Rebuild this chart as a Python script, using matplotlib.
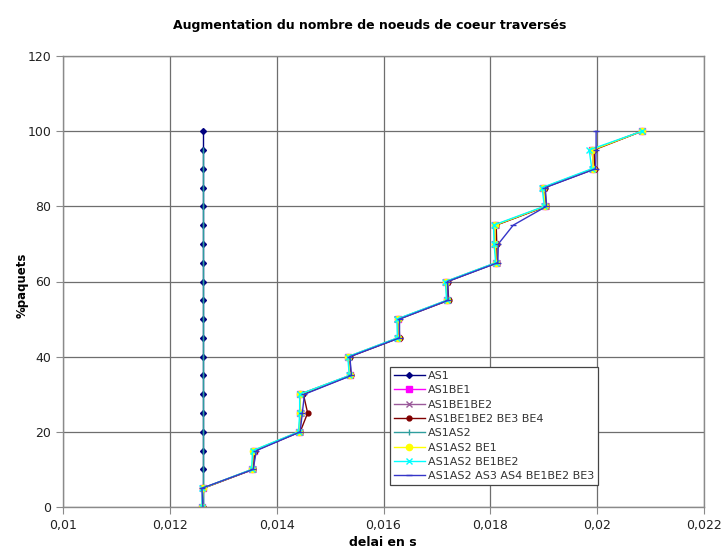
import matplotlib
matplotlib.use("Agg")
import matplotlib.pyplot as plt
from matplotlib.ticker import FuncFormatter, MultipleLocator
import numpy as np

plt.rcParams['font.family'] = ['DejaVu Sans']

pct = [0, 5, 10, 15, 20, 25, 30, 35, 40, 45, 50, 55, 60, 65, 70, 75, 80, 85, 90, 95, 100]

as1 = [0.01263, 0.01263, 0.01263, 0.01263, 0.01263, 0.01263, 0.01263, 0.01263, 0.01263, 0.01263,
       0.01263, 0.01263, 0.01263, 0.01263, 0.01263, 0.01263, 0.01263, 0.01263, 0.01263, 0.01263, 0.01263]
as1be1 = [0.01260, 0.01262, 0.01354, 0.01358, 0.01442, 0.01444, 0.01444, 0.01537, 0.01534, 0.01627,
          0.01627, 0.01719, 0.01717, 0.01811, 0.01809, 0.01809, 0.01903, 0.01899, 0.01993, 0.01991, 0.02084]
as1be1be2 = [0.01261, 0.01262, 0.01355, 0.01357, 0.01443, 0.01445, 0.01443, 0.01538, 0.01535, 0.01628,
             0.01626, 0.01720, 0.01718, 0.01812, 0.01808, 0.01810, 0.01904, 0.01900, 0.01994, 0.01990, 0.02084]
as1be1be2be3be4 = [0.01262, 0.01263, 0.01356, 0.01360, 0.01444, 0.01458, 0.01450, 0.01539, 0.01537, 0.01630,
                   0.01629, 0.01722, 0.01720, 0.01813, 0.01812, 0.01811, 0.01905, 0.01902, 0.01996, 0.01994, 0.02084]
as1as2 = [0.01263, 0.01263, 0.01263, 0.01263, 0.01263, 0.01263, 0.01263, 0.01263, 0.01263, 0.01263,
          0.01263, 0.01263, 0.01263, 0.01263, 0.01263, 0.01263, 0.01263, 0.01263, 0.01263, 0.01263, np.nan]
as1as2be1 = [0.01260, 0.01262, 0.01354, 0.01356, 0.01442, 0.01444, 0.01444, 0.01537, 0.01534, 0.01627,
             0.01627, 0.01719, 0.01717, 0.01811, 0.01809, 0.01809, 0.01903, 0.01899, 0.01993, 0.01991, 0.02084]
as1as2be1be2 = [0.01260, 0.01261, 0.01353, 0.01355, 0.01441, 0.01443, 0.01443, 0.01536, 0.01533, 0.01626,
                0.01625, 0.01718, 0.01716, 0.01810, 0.01807, 0.01806, 0.01901, 0.01897, 0.01990, 0.01985, 0.02084]
as1as2as3as4 = [0.01262, 0.01260, 0.01356, 0.01362, 0.01444, 0.01448, 0.01452, 0.01540, 0.01537, 0.01630,
                0.01630, 0.01721, 0.01720, 0.01814, 0.01815, 0.01843, 0.01905, 0.01903, 0.01997, 0.01998, 0.01998]

labels = ["AS1", "AS1BE1", "AS1BE1BE2", "AS1BE1BE2 BE3 BE4", "AS1AS2",
          "AS1AS2 BE1", "AS1AS2 BE1BE2", "AS1AS2 AS3 AS4 BE1BE2 BE3"]
series = [as1, as1be1, as1be1be2, as1be1be2be3be4, as1as2, as1as2be1, as1as2be1be2, as1as2as3as4]
colors = ["#000080", "#FF00FF", "#9A5A9A", "#800000", "#2E9E9E", "#FFFF00", "#00FFFF", "#3535C8"]
markers = ["D", "s", "x", "o", "|", "o", "x", "_"]
msizes = [3, 4, 4, 3.5, 4, 4.5, 4, 4]

fig = plt.figure(figsize=(7.28, 5.5), dpi=100)
ax = fig.add_axes([63/728, 1-507/550, (704-63)/728, (507-56)/550])

for xs, lab, c, m, ms in zip(series, labels, colors, markers, msizes):
    ax.plot(xs, pct, color=c, marker=m, markersize=ms, linewidth=1.0, label=lab,
            markeredgecolor=c, markeredgewidth=1.0)

ax.set_xlim(0.01, 0.022)
ax.set_ylim(0, 120)
ax.xaxis.set_major_locator(MultipleLocator(0.002))
ax.yaxis.set_major_locator(MultipleLocator(20))
ax.xaxis.set_major_formatter(FuncFormatter(lambda v, p: ("%g" % round(v, 4)).replace(".", ",")))
ax.yaxis.set_major_formatter(FuncFormatter(lambda v, p: "%d" % v))
ax.grid(True, color="#6e6e6e", linewidth=0.9)
ax.set_axisbelow(True)
for s in ax.spines.values():
    s.set_color("#8a8a8a")
    s.set_linewidth(1.0)
ax.tick_params(axis="both", direction="out", length=5, color="#8a8a8a", labelsize=9, colors="#222222")
ax.tick_params(axis="x", pad=4)

fig.text(383/728, 1-542/550, "delai en s", ha="center", va="center", fontsize=9, fontweight="bold")
fig.text(22/728, 1-285/550, "%paquets", ha="center", va="center", rotation=90, fontsize=8.5, fontweight="bold")
fig.text(370/728, 1-26/550, "Augmentation du nombre de noeuds de coeur traversés",
         ha="center", va="center", fontsize=9, fontweight="bold")

leg = ax.legend(loc="upper left", bbox_to_anchor=(390/728, 1-367/550), bbox_transform=fig.transFigure,
                borderaxespad=0, fontsize=8, frameon=True, fancybox=False, framealpha=1,
                handlelength=2.8, labelspacing=0.39, handletextpad=0.3, borderpad=0.35)
leg.get_frame().set_edgecolor("#444444")
leg.get_frame().set_linewidth(0.9)
for t in leg.get_texts():
    t.set_color("#333333")

fig.savefig("out.png", dpi=100)
